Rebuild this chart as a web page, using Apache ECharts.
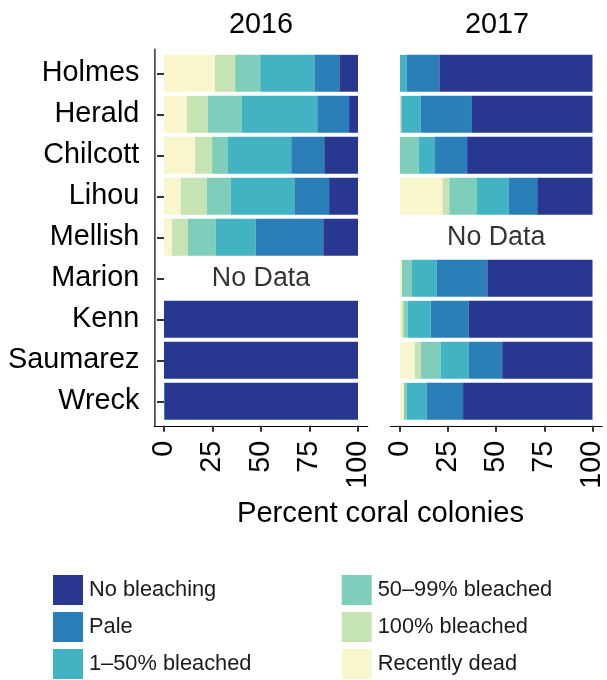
<!DOCTYPE html>
<html>
<head>
<meta charset="utf-8">
<script src="https://cdn.jsdelivr.net/npm/echarts@6/dist/echarts.min.js"></script>
<style>
html,body{margin:0;padding:0;background:#fff;}
#chart{width:607px;height:680px;}
</style>
</head>
<body>
<div id="chart"></div>
<script>
// ---- data ----
var sites = ['Holmes','Herald','Chilcott','Lihou','Mellish','Marion','Kenn','Saumarez','Wreck'];
var years = ['2016','2017'];
var categories = ['Recently dead','100% bleached','50–99% bleached','1–50% bleached','Pale','No bleaching'];
var xTicks = [0, 25, 50, 75, 100];

// 2016 (null = no data)
var dead2016    = [26.3, 11.8, 16.0,  8.7,  4.1, null,   0,   0,    0];
var b100_2016   = [10.4, 10.8,  8.8, 13.4,  8.2, null,   0,   0,    0];
var b50_2016    = [12.9, 17.4,  8.2, 12.3, 14.4, null,   0,   0,    0];
var b1_2016     = [27.9, 39.0, 32.6, 32.8, 20.5, null,   0,   0,    0];
var pale2016    = [12.9, 16.4, 17.0, 17.9, 34.9, null,   0,   0,  0.5];
var none2016    = [ 9.6,  4.6, 17.4, 14.9, 17.9, null, 100, 100, 99.5];

// 2017
var dead2017    = [   0,    0,    0, 22.1, null,  1.0,  1.0,  7.7,  2.1];
var b100_2017   = [   0,  0.5,    0,  3.5, null,    0,  1.1,  3.1,    0];
var b50_2017    = [   0,  0.5,  9.7, 14.4, null,  5.2,  2.0, 10.3,  1.5];
var b1_2017     = [ 3.6,  9.8,  8.2, 16.4, null, 12.9, 11.9, 14.5, 10.2];
var pale2017    = [16.9, 26.6, 17.0, 14.9, null, 26.3, 19.6, 17.5, 19.0];
var none2017    = [79.5, 62.6, 65.1, 28.7, null, 54.6, 64.4, 46.9, 67.2];

var noData2016 = ['Marion'];
var noData2017 = ['Mellish'];

// ---- styling ----
var colors = {
  'Recently dead': '#f9f6cd',
  '100% bleached': '#c6e3b4',
  '50–99% bleached': '#7fcdbb',
  '1–50% bleached': '#42b3c2',
  'Pale': '#2b7fb8',
  'No bleaching': '#283891'
};
var FONT = "'Liberation Sans', Arial, Helvetica, sans-serif";
var byYear = {
  '2016': [dead2016, b100_2016, b50_2016, b1_2016, pale2016, none2016],
  '2017': [dead2017, b100_2017, b50_2017, b1_2017, pale2017, none2017]
};
var noData = {'2016': noData2016, '2017': noData2017};

var gridTop = 52.8, band = 41, gridH = band * sites.length;
var panelW = 213.4;
var grids = [
  {left: 154.3, top: gridTop, width: panelW, height: gridH},
  {left: 390.3, top: gridTop, width: panelW, height: gridH}
];

function xAxisCfg(i) {
  return {
    type: 'value', gridIndex: i, min: -5, max: 105, offset: 4,
    splitLine: {show: false},
    axisLine: {show: true, lineStyle: {color: '#000', width: 1.2}},
    axisTick: {show: true, customValues: xTicks, length: 6, lineStyle: {color: '#333', width: 2}},
    axisLabel: {customValues: xTicks, rotate: 90, fontSize: 28.8, color: '#000', margin: 15, fontFamily: FONT}
  };
}
function yAxisCfg(i) {
  return {
    type: 'category', gridIndex: i, data: sites, inverse: true, show: i === 0,
    axisLine: {show: false},
    axisTick: {show: true, alignWithLabel: true, length: 7, lineStyle: {color: '#333', width: 2}},
    axisLabel: {fontSize: 28.8, color: '#000', margin: 15, fontFamily: FONT}
  };
}

var series = [];
years.forEach(function (yr, gi) {
  categories.forEach(function (cat, ci) {
    series.push({
      name: cat, type: 'bar', stack: 'y' + yr,
      xAxisIndex: gi, yAxisIndex: gi,
      barWidth: '90%',
      itemStyle: {color: colors[cat]},
      data: byYear[yr][ci],
      silent: true
    });
  });
  series.push({
    name: 'nodata' + yr, type: 'scatter', xAxisIndex: gi, yAxisIndex: gi,
    symbolSize: 1, itemStyle: {color: 'rgba(0,0,0,0)'}, silent: true,
    data: noData[yr].map(function (s) { return [50, s]; }),
    label: {show: true, position: 'inside', formatter: 'No Data', fontSize: 26.8, color: '#000', fontFamily: FONT}
  });
});

var legendCommon = {
  orient: 'vertical', icon: 'rect', itemWidth: 30, itemHeight: 30, itemGap: 7,
  selectedMode: false, top: 575, padding: 0, height: 110,
  textStyle: {fontSize: 21.8, color: '#1a1a1a', fontFamily: FONT, padding: [0, 0, 0, 1]}
};

var chart = echarts.init(document.getElementById('chart'), null, {renderer: 'canvas'});
chart.setOption({
  animation: false,
  backgroundColor: '#fff',
  grid: grids,
  xAxis: [xAxisCfg(0), xAxisCfg(1)],
  yAxis: [yAxisCfg(0), yAxisCfg(1)],
  legend: [
    Object.assign({}, legendCommon, {left: 53, data: ['No bleaching', 'Pale', '1–50% bleached']}),
    Object.assign({}, legendCommon, {left: 341.7, data: ['50–99% bleached', '100% bleached', 'Recently dead']})
  ],
  series: series,
  graphic: [
    {type: 'line', shape: {x1: 154.9, y1: 48.7, x2: 154.9, y2: 426.8}, style: {stroke: '#000', lineWidth: 1.2}, silent: true},
    {type: 'text', x: 261, y: 25, style: {text: '2016', fontSize: 28.8, fill: '#000', fontFamily: FONT, textAlign: 'center', textVerticalAlign: 'middle'}},
    {type: 'text', x: 497, y: 25, style: {text: '2017', fontSize: 28.8, fill: '#000', fontFamily: FONT, textAlign: 'center', textVerticalAlign: 'middle'}},
    {type: 'text', x: 380.5, y: 514, style: {text: 'Percent coral colonies', fontSize: 29.2, fill: '#000', fontFamily: FONT, textAlign: 'center', textVerticalAlign: 'middle'}}
  ]
});
</script>
</body>
</html>
